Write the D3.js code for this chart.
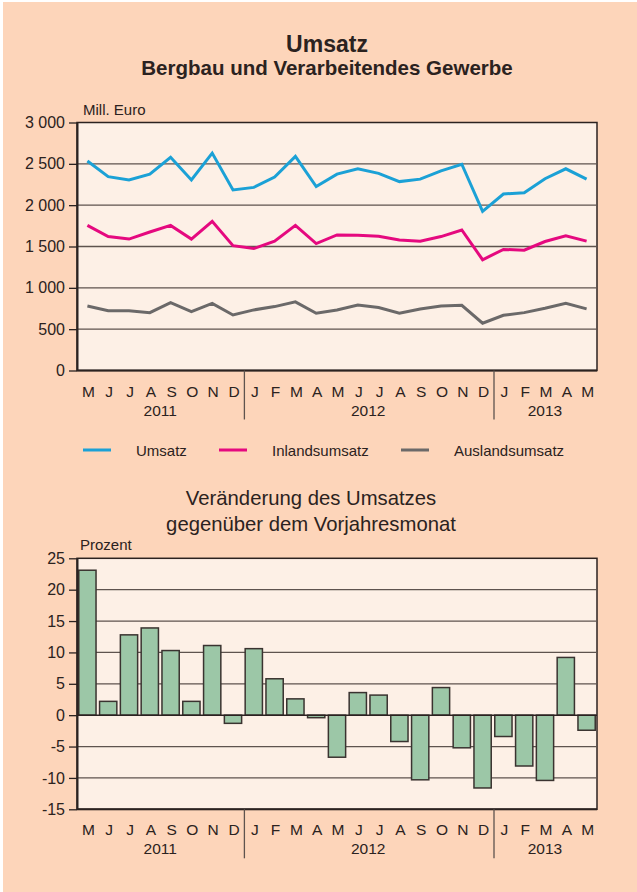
<!DOCTYPE html>
<html>
<head>
<meta charset="utf-8">
<script src="https://d3js.org/d3.v7.min.js"></script>
<style>
  body { margin: 0; background: #fff; }
  svg { display: block; font-family: "Liberation Sans", Arial, sans-serif; }
  .axis text { font-family: "Liberation Sans", Arial, sans-serif; font-size: 16px; fill: #2b2220; }
  .axis path, .axis line { stroke: #2b2220; }
</style>
</head>
<body>
<div id="chart"></div>
<script>
// Page size
var w = 637, h = 892;

// Data: May 2011 .. May 2013
var months = ["M","J","J","A","S","O","N","D","J","F","M","A","M","J","J","A","S","O","N","D","J","F","M","A","M"];
var years = [{label: "2011", from: 0, to: 7}, {label: "2012", from: 8, to: 19}, {label: "2013", from: 20, to: 24}];

var umsatz = [2535, 2345, 2305, 2375, 2580, 2305, 2630, 2185, 2215, 2340, 2590, 2225,
              2375, 2440, 2385, 2285, 2315, 2415, 2495, 1925, 2135, 2150, 2320, 2440, 2315];
var inland = [1755, 1620, 1590, 1675, 1755, 1590, 1805, 1510, 1475, 1565, 1755, 1535,
              1640, 1635, 1625, 1580, 1565, 1620, 1700, 1340, 1465, 1455, 1560, 1630, 1565];
var ausland = [780, 722, 722, 700, 820, 712, 812, 672, 733, 773, 830, 692,
               732, 793, 761, 692, 745, 781, 789, 572, 668, 700, 753, 813, 745];
var veraenderung = [23.1, 2.2, 12.8, 13.9, 10.3, 2.2, 11.1, -1.3, 10.6, 5.8, 2.6, -0.4,
                    -6.7, 3.6, 3.2, -4.2, -10.3, 4.4, -5.2, -11.6, -3.4, -8.1, -10.4, 9.2, -2.4];

var topTicks = [0, 500, 1000, 1500, 2000, 2500, 3000];
var barTicks = [-15, -10, -5, 0, 5, 10, 15, 20, 25];

var series = [
  {name: "Umsatz", values: umsatz, color: "#1ba1d6"},
  {name: "Inlandsumsatz", values: inland, color: "#e5097f"},
  {name: "Auslandsumsatz", values: ausland, color: "#6b6969"}
];

var textCol = "#2b2220", gridCol = "#5e534e";
var fmt = d3.formatLocale({decimal: ",", thousands: " ", grouping: [3], currency: ["", " €"], minus: "-"}).format(",d");

var svg = d3.select("#chart").append("svg").attr("width", w).attr("height", h);

// background
svg.append("rect").attr("x", 3).attr("y", 2).attr("width", w - 3).attr("height", h - 2).attr("fill", "#fdd5ba");

// titles
svg.append("text").attr("x", 327).attr("y", 52).attr("text-anchor", "middle")
  .style("font-size", "23px").style("font-weight", "bold").attr("fill", textCol).text("Umsatz");
svg.append("text").attr("x", 327).attr("y", 75).attr("text-anchor", "middle")
  .style("font-size", "20.5px").style("font-weight", "bold").attr("fill", textCol).text("Bergbau und Verarbeitendes Gewerbe");

// shared x scale
var left = 77, right = 597;
var idx = d3.range(months.length);
var xScale = d3.scaleBand().domain(idx).range([left, right]);
var xBar = d3.scaleBand().domain(idx).range([left, right]).paddingInner(0.17).paddingOuter(0.085);

function drawMonthAxis(yBase) {
  var g = svg.append("g");
  g.selectAll("text.month").data(idx).enter().append("text")
    .attr("class", "month")
    .attr("x", function(i) { return xScale(i) + xScale.bandwidth() / 2 + 1; })
    .attr("y", yBase + 26)
    .attr("text-anchor", "middle")
    .style("font-size", "15.5px").attr("fill", textCol)
    .text(function(i) { return months[i]; });
  g.selectAll("text.year").data(years).enter().append("text")
    .attr("class", "year")
    .attr("x", function(d) { return (xScale(d.from) + xScale(d.to) + xScale.bandwidth()) / 2; })
    .attr("y", yBase + 45)
    .attr("text-anchor", "middle")
    .style("font-size", "15.5px").attr("fill", textCol)
    .text(function(d) { return d.label; });
  g.selectAll("line.sep").data(years.slice(1)).enter().append("line")
    .attr("x1", function(d) { return xScale(d.from) + 1; })
    .attr("x2", function(d) { return xScale(d.from) + 1; })
    .attr("y1", yBase).attr("y2", yBase + 49)
    .attr("stroke", gridCol).attr("stroke-width", 1.3);
}

// ---------- top chart: lines ----------
var yTop = d3.scaleLinear().domain([0, 3000]).range([370.5, 122.5]);

svg.append("rect").attr("x", left).attr("y", yTop(3000)).attr("width", right - left)
  .attr("height", yTop(0) - yTop(3000)).attr("fill", "#fdf0e6")
  .attr("stroke", textCol).attr("stroke-width", 1.5);

svg.append("g").selectAll("line").data(topTicks.slice(1, -1)).enter().append("line")
  .attr("x1", left).attr("x2", right)
  .attr("y1", function(d) { return yTop(d); }).attr("y2", function(d) { return yTop(d); })
  .attr("stroke", gridCol).attr("stroke-width", 1.3);

var yAxisTop = d3.axisLeft(yTop).tickValues(topTicks).tickFormat(fmt).tickSize(8).tickSizeOuter(0).tickPadding(4);
var gTop = svg.append("g").attr("class", "axis").attr("transform", "translate(" + left + ",0)").call(yAxisTop);
gTop.attr("font-family", null).attr("font-size", null);
gTop.select(".domain").attr("stroke-width", 2);
gTop.selectAll("line").attr("stroke-width", 1.3);

svg.append("text").attr("x", 83).attr("y", 115).style("font-size", "15px").attr("fill", textCol).text("Mill. Euro");

var line = d3.line()
  .x(function(d, i) { return xScale(i) + xScale.bandwidth() / 2; })
  .y(function(d) { return yTop(d); });

series.forEach(function(s) {
  svg.append("path").datum(s.values).attr("d", line)
    .attr("fill", "none").attr("stroke", s.color).attr("stroke-width", 3)
    .attr("stroke-linejoin", "miter");
});

svg.append("line").attr("x1", left).attr("x2", right).attr("y1", yTop(0)).attr("y2", yTop(0))
  .attr("stroke", textCol).attr("stroke-width", 2);

drawMonthAxis(yTop(0));

// legend
var legendX = [83, 219, 401];
var legend = svg.append("g").selectAll("g").data(series).enter().append("g")
  .attr("transform", function(d, i) { return "translate(" + legendX[i] + ",450)"; });
legend.append("line").attr("x1", 0).attr("x2", 28).attr("y1", 0).attr("y2", 0)
  .attr("stroke", function(d) { return d.color; }).attr("stroke-width", 3);
legend.append("text").attr("x", 53).attr("y", 5.5)
  .style("font-size", "15px").attr("fill", textCol).text(function(d) { return d.name; });

// ---------- bottom chart: bars ----------
svg.append("text").attr("x", 311).attr("y", 505).attr("text-anchor", "middle")
  .style("font-size", "20.3px").attr("fill", textCol).text("Veränderung des Umsatzes");
svg.append("text").attr("x", 311).attr("y", 531).attr("text-anchor", "middle")
  .style("font-size", "20.3px").attr("fill", textCol).text("gegenüber dem Vorjahresmonat");

var yBar = d3.scaleLinear().domain([-15, 25]).range([809.3, 558.3]);

svg.append("rect").attr("x", left).attr("y", yBar(25)).attr("width", right - left)
  .attr("height", yBar(-15) - yBar(25)).attr("fill", "#fdf0e6")
  .attr("stroke", textCol).attr("stroke-width", 1.5);

svg.append("g").selectAll("line").data(barTicks.filter(function(d) { return d > -15 && d < 25 && d !== 0; }))
  .enter().append("line")
  .attr("x1", left).attr("x2", right)
  .attr("y1", function(d) { return yBar(d); }).attr("y2", function(d) { return yBar(d); })
  .attr("stroke", gridCol).attr("stroke-width", 1.3);

svg.append("g").selectAll("rect").data(veraenderung).enter().append("rect")
  .attr("x", function(d, i) { return xBar(i); })
  .attr("width", xBar.bandwidth())
  .attr("y", function(d) { return yBar(Math.max(0, d)); })
  .attr("height", function(d) { return Math.abs(yBar(d) - yBar(0)); })
  .attr("fill", "#9cc7a7").attr("stroke", "#3a3330").attr("stroke-width", 1.5);

svg.append("line").attr("x1", left).attr("x2", right).attr("y1", yBar(0)).attr("y2", yBar(0))
  .attr("stroke", textCol).attr("stroke-width", 1.5);

var yAxisBar = d3.axisLeft(yBar).tickValues(barTicks).tickFormat(fmt).tickSize(8).tickSizeOuter(0).tickPadding(4);
var gBar = svg.append("g").attr("class", "axis").attr("transform", "translate(" + left + ",0)").call(yAxisBar);
gBar.attr("font-family", null).attr("font-size", null);
gBar.select(".domain").attr("stroke-width", 2);
gBar.selectAll("line").attr("stroke-width", 1.3);

svg.append("line").attr("x1", left).attr("x2", right).attr("y1", yBar(-15)).attr("y2", yBar(-15))
  .attr("stroke", textCol).attr("stroke-width", 2);

svg.append("text").attr("x", 80).attr("y", 550).style("font-size", "15px").attr("fill", textCol).text("Prozent");

drawMonthAxis(yBar(-15));
</script>
</body>
</html>
